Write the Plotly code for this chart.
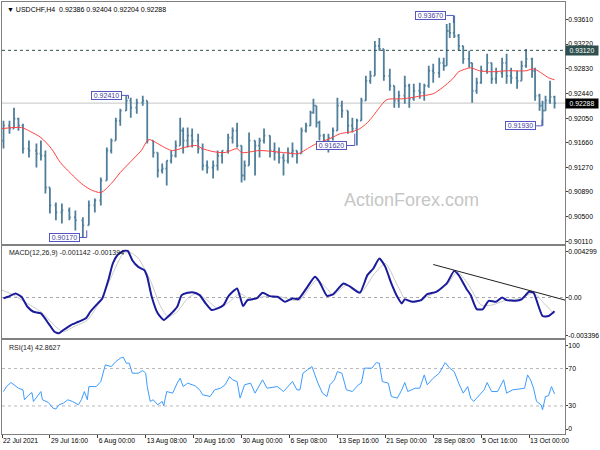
import plotly.graph_objects as go

# ---------------- data ----------------
# bar position on the time axis, in H4-bar numbers (0 = 22 Jul 2021 08:00)
bar_t = [1,5,8,11,14,18,23,26,29,32,36,40,45,49,54,58,62,66,70,73,
         76,79,83,86,90,94,97,101,104,107,110,113,116,119,121,124,127,131,134,137,
         141,144,147,151,154,157,160,162,165,169,172,175,179,182,185,188,191,194,197,200,
         203,206,208,210,212,215,218,221,224,227,231,234,237,240,243,246,249,252,255,259,
         262,265,269,272,275,279,282,285,288,292,295,297,299,302,305,308,312,314,317,320,
         324,327,330,334,337,340,344,347,350,354,356,359,361,363,366,369]

price_open = [0.91697,0.91933,0.91886,0.92043,0.91933,0.91571,0.91540,0.91493,0.91461,0.90958,
              0.90675,0.90565,0.90597,0.90487,0.90440,0.90361,0.90675,0.90754,0.91068,0.91540,
              0.91697,0.92012,0.92169,0.92326,0.92216,0.92295,0.92326,0.91697,0.91509,0.91226,
              0.91257,0.91383,0.91461,0.91619,0.91854,0.91697,0.91776,0.91697,0.91571,0.91304,
              0.91273,0.91304,0.91461,0.91540,0.91744,0.91854,0.91619,0.91147,0.91304,0.91697,
              0.91619,0.91697,0.91776,0.91540,0.91509,0.91430,0.91383,0.91509,0.91540,0.91493,
              0.91854,0.91933,0.92137,0.92247,0.91980,0.91776,0.91697,0.91744,0.91854,0.92247,
              0.92169,0.91933,0.91886,0.92012,0.92326,0.92640,0.92719,0.93191,0.93143,0.92719,
              0.92562,0.92326,0.92405,0.92562,0.92357,0.92483,0.92452,0.92562,0.92798,0.92766,
              0.92923,0.92876,0.93426,0.93395,0.93348,0.93191,0.92986,0.92923,0.92483,0.92609,
              0.92798,0.92923,0.92672,0.92766,0.92923,0.92719,0.92688,0.92640,0.92876,0.92986,
              0.92798,0.92405,0.92247,0.92169,0.92326,0.92386]
price_high = [0.92012,0.92012,0.92216,0.92059,0.91964,0.91697,0.91650,0.91697,0.91540,0.90958,
              0.90723,0.90707,0.90644,0.90597,0.90487,0.90754,0.90785,0.91116,0.91587,0.91729,
              0.92059,0.92200,0.92410,0.92373,0.92357,0.92405,0.92326,0.91697,0.91509,0.91336,
              0.91383,0.91540,0.91697,0.92059,0.91902,0.91902,0.91886,0.91807,0.91650,0.91383,
              0.91383,0.91540,0.91540,0.91807,0.91902,0.91980,0.91619,0.91383,0.91823,0.91697,
              0.91744,0.91886,0.91776,0.91666,0.91587,0.91493,0.91587,0.91666,0.91540,0.91902,
              0.91980,0.92169,0.92357,0.92247,0.92012,0.91807,0.91807,0.91902,0.92373,0.92326,
              0.92169,0.92059,0.92043,0.92373,0.92719,0.92798,0.93269,0.93316,0.93143,0.92829,
              0.92562,0.92483,0.92719,0.92593,0.92593,0.92609,0.92593,0.92876,0.92908,0.93002,
              0.93002,0.93536,0.93552,0.93670,0.93379,0.93191,0.93112,0.92923,0.92688,0.92876,
              0.93065,0.92923,0.92845,0.93002,0.93065,0.92845,0.92798,0.92955,0.93143,0.93002,
              0.92845,0.92436,0.92326,0.92405,0.92640,0.92404]
price_low = [0.91571,0.91807,0.91886,0.91854,0.91493,0.91430,0.91273,0.91383,0.90864,0.90550,
             0.90440,0.90392,0.90440,0.90282,0.90170,0.90361,0.90565,0.90675,0.91068,0.91493,
             0.91697,0.91933,0.92169,0.92059,0.92122,0.92247,0.91650,0.91430,0.91116,0.91178,
             0.90990,0.91336,0.91430,0.91619,0.91493,0.91587,0.91587,0.91493,0.91226,0.91178,
             0.91100,0.91226,0.91336,0.91493,0.91650,0.91587,0.91037,0.91068,0.91304,0.91147,
             0.91430,0.91650,0.91430,0.91383,0.91336,0.91147,0.91336,0.91430,0.91336,0.91493,
             0.91823,0.91933,0.92122,0.91902,0.91697,0.91587,0.91509,0.91697,0.91854,0.92059,
             0.91807,0.91823,0.91620,0.92012,0.92326,0.92593,0.92719,0.93112,0.92640,0.92483,
             0.92216,0.92216,0.92279,0.92216,0.92326,0.92357,0.92326,0.92530,0.92609,0.92688,
             0.92798,0.92876,0.93316,0.93316,0.93112,0.92908,0.92845,0.92295,0.92436,0.92593,
             0.92750,0.92593,0.92593,0.92688,0.92593,0.92593,0.92515,0.92640,0.92845,0.92688,
             0.92326,0.92169,0.91930,0.92169,0.92279,0.92204]
price_close = [0.91933,0.91886,0.92043,0.91933,0.91571,0.91540,0.91493,0.91461,0.90958,0.90675,
               0.90565,0.90597,0.90487,0.90440,0.90361,0.90675,0.90754,0.91068,0.91540,0.91697,
               0.92012,0.92169,0.92326,0.92216,0.92295,0.92326,0.91697,0.91509,0.91226,0.91257,
               0.91383,0.91461,0.91619,0.91854,0.91697,0.91776,0.91697,0.91571,0.91304,0.91273,
               0.91304,0.91461,0.91540,0.91744,0.91854,0.91619,0.91147,0.91304,0.91697,0.91619,
               0.91697,0.91776,0.91540,0.91509,0.91430,0.91383,0.91509,0.91540,0.91493,0.91854,
               0.91933,0.92137,0.92247,0.91980,0.91776,0.91697,0.91744,0.91854,0.92247,0.92169,
               0.91933,0.91886,0.92012,0.92326,0.92640,0.92719,0.93191,0.93143,0.92719,0.92562,
               0.92326,0.92405,0.92562,0.92357,0.92483,0.92452,0.92562,0.92798,0.92766,0.92923,
               0.92876,0.93426,0.93395,0.93348,0.93191,0.92986,0.92923,0.92483,0.92609,0.92798,
               0.92923,0.92672,0.92766,0.92923,0.92719,0.92688,0.92640,0.92876,0.92986,0.92798,
               0.92405,0.92247,0.92169,0.92326,0.92386,0.92288]

ma_t = [0,13,19,26,33,39,46,53,59,66,73,79,86,93,98,104,110,114,124,130,
        134,141,149,157,160,172,188,198,204,210,219,226,234,239,244,248,252,257,268,281,
        288,294,301,305,310,313,319,327,337,350,355,361,365,369]
ma_v = [0.91886,0.91902,0.91839,0.91744,0.91571,0.91351,0.91178,0.91021,0.90927,0.90880,
        0.91021,0.91194,0.91367,0.91540,0.91713,0.91650,0.91571,0.91540,0.91603,0.91619,
        0.91571,0.91524,0.91509,0.91571,0.91509,0.91540,0.91509,0.91493,0.91571,0.91650,
        0.91729,0.91807,0.91839,0.91886,0.91980,0.92090,0.92216,0.92342,0.92357,0.92405,
        0.92436,0.92530,0.92672,0.92782,0.92829,0.92845,0.92798,0.92782,0.92798,0.92798,
        0.92829,0.92750,0.92688,0.92656]

macd_t = [1,4,9,13,17,21,26,31,35,38,41,46,51,56,59,64,67,71,74,77,
          81,84,87,91,95,97,100,104,108,112,117,120,124,128,132,136,140,144,148,151,
          154,157,159,161,164,170,174,179,184,189,194,198,204,209,212,217,221,228,232,239,
          244,248,252,256,260,264,267,269,274,280,284,290,297,302,305,310,313,317,321,325,
          330,334,337,343,347,352,355,361,365,369]
macd_v = [-0.000072,0.000061,0.000343,0.000061,-0.000770,-0.001186,-0.001319,-0.002150,-0.002848,-0.002981,
          -0.002706,-0.002291,-0.002017,-0.001734,-0.001186,-0.000488,-0.000072,0.001449,0.002836,0.003526,
          0.003883,0.003883,0.003111,0.002554,0.002280,0.001723,0.000061,-0.001319,-0.001875,-0.001460,
          -0.000770,0.000202,0.000393,0.000427,0.000202,-0.000488,-0.001044,-0.000903,-0.000629,0.000061,
          0.000476,0.000759,0.000061,-0.000712,-0.000213,-0.000072,0.000393,0.000119,0.000061,-0.000355,
          -0.000072,-0.000130,0.000892,0.001723,0.001307,0.000144,0.000260,0.001174,0.000950,0.000393,
          0.001864,0.002421,0.003252,0.002554,0.001174,0.000061,-0.000488,-0.000155,-0.000355,-0.000213,
          0.000285,0.000476,0.001174,0.002221,0.001864,0.000759,0.000202,-0.000961,-0.000986,-0.000272,
          -0.000355,0.000011,-0.000213,-0.000272,-0.000155,0.000476,0.000393,-0.001543,-0.001543,-0.001142]

signal_t = [0,8,15,26,37,41,48,57,66,75,81,85,91,99,106,111,117,124,130,137,
            144,152,159,166,174,186,194,199,210,217,221,230,240,248,256,264,270,279,288,297,
            304,311,320,327,337,347,355,362,369]
signal_v = [0.000618,0.000202,-0.000355,-0.001186,-0.002565,-0.002848,-0.002432,-0.001875,-0.000213,0.002280,
            0.003692,0.003800,0.003277,0.001449,-0.000770,-0.001601,-0.001186,-0.000072,0.000343,-0.000213,
            -0.000903,-0.000355,0.000343,-0.000213,0.000061,0.000061,-0.000213,-0.000213,0.001449,0.000759,
            0.000202,0.001033,0.000476,0.001864,0.002836,0.001033,-0.000272,-0.000213,0.000343,0.001033,
            0.002138,0.001174,-0.000629,-0.000629,-0.000213,-0.000072,0.000393,-0.000488,-0.001394]

trend_t = [288, 376]
trend_v = [0.002753, -0.000213]

rsi_t = [1,3,6,8,11,14,15,18,20,21,24,26,27,31,34,36,38,41,44,47,
         51,53,55,57,58,63,66,69,73,76,79,81,83,85,87,91,94,96,97,99,
         101,104,107,108,110,114,117,119,121,124,129,132,134,139,142,146,149,152,154,157,
         159,162,166,169,174,177,184,188,194,197,199,201,204,207,209,211,214,217,219,222,
         224,227,230,234,238,240,242,247,250,252,254,258,260,264,267,269,271,276,279,282,
         284,288,292,296,299,302,305,308,311,313,315,319,322,324,327,331,335,337,341,345,
         349,351,353,355,357,360,361,363,365,367,369]
rsi_v = [45.4,50.7,55.0,52.6,49.0,47.2,36.6,41.9,44.3,34.8,41.9,45.4,36.6,33.7,27.7,26.7,31.2,33.0,36.6,34.8,
         31.2,36.6,45.4,36.6,50.7,50.7,56.1,73.9,72.1,77.4,81.0,82.1,75.7,75.7,65.0,65.0,67.8,65.0,50.7,34.8,
         36.6,31.2,34.8,30.2,45.4,43.7,54.4,59.7,50.7,54.4,51.5,47.2,41.9,40.1,47.2,49.0,52.6,61.4,57.9,56.1,
         38.4,52.6,54.4,43.7,57.9,49.0,50.7,45.4,56.1,47.2,47.2,65.0,68.6,72.1,63.2,54.4,43.7,40.1,52.6,57.9,
         66.7,65.0,47.2,45.4,52.6,54.4,70.4,70.4,76.3,75.7,56.1,54.4,40.1,38.4,47.2,55.0,45.4,49.0,49.0,63.2,
         52.6,59.7,65.0,76.3,70.4,66.7,54.4,43.7,50.7,38.4,34.8,41.9,47.2,55.0,45.4,45.4,57.9,43.7,47.2,48.0,
         49.0,63.2,57.9,49.0,34.8,31.2,25.9,40.1,40.8,50.7,42.8627]

date_t = [0,32,64,96,128,160,192,224,256,288,320,352]
date_labels = ["22 Jul 2021","29 Jul 16:00","6 Aug 00:00","13 Aug 08:00","20 Aug 16:00",
               "30 Aug 00:00","6 Sep 08:00","13 Sep 16:00","21 Sep 00:00","28 Sep 08:00",
               "5 Oct 16:00","13 Oct 00:00"]
price_ticks = [0.93610,0.93220,0.92830,0.92440,0.92050,0.91660,0.91270,0.90890,0.90500,0.90110]
macd_tick_labels = ["0.004299","0.00","-0.003396"]
rsi_tick_labels = ["100","70","30","0"]

marked_prices = [0.92410, 0.90170, 0.91620, 0.93670, 0.91930]
marked_box_t = [80, 51.9, 230.3, 296.8, 356.7]
marked_bar_t = [84.5, 56.6, 235.6, 301.5, 360.7]
marked_tip = [0.92357, 0.90282, 0.91807, 0.93552, 0.92028]

level_line = 0.93120
bid_price = 0.92288
header = "▼ USDCHF,H4  0.92386 0.92404 0.92204 0.92288"
macd_title = "MACD(12,26,9) -0.001142 -0.001394"
rsi_title = "RSI(14) 42.8627"

# ---------------- styling ----------------
FONT = "Liberation Sans"
BAR = "#4f7f9a"
FRAME = "#808080"
LBL = "#4040a0"

fig = go.Figure()
fig.add_trace(go.Ohlc(x=bar_t, open=price_open, high=price_high, low=price_low, close=price_close,
                      increasing=dict(line=dict(color=BAR, width=1.8)),
                      decreasing=dict(line=dict(color=BAR, width=1.8)),
                      tickwidth=0.45, hoverinfo="skip", showlegend=False, xaxis="x", yaxis="y"))
fig.add_trace(go.Scatter(x=ma_t, y=ma_v, mode="lines", line=dict(color="#ff4040", width=1, shape="spline", smoothing=0.8),
                         hoverinfo="skip", showlegend=False, xaxis="x", yaxis="y"))
fig.add_trace(go.Scatter(x=signal_t, y=signal_v, mode="lines", line=dict(color="#c8c8c8", width=1, shape="spline", smoothing=0.6),
                         hoverinfo="skip", showlegend=False, xaxis="x2", yaxis="y2"))
fig.add_trace(go.Scatter(x=macd_t, y=macd_v, mode="lines", line=dict(color="#1a1a9c", width=2, shape="spline", smoothing=0.5),
                         hoverinfo="skip", showlegend=False, xaxis="x2", yaxis="y2"))
fig.add_trace(go.Scatter(x=trend_t, y=trend_v, mode="lines", line=dict(color="#202020", width=1),
                         hoverinfo="skip", showlegend=False, xaxis="x2", yaxis="y2"))
fig.add_trace(go.Scatter(x=rsi_t, y=rsi_v, mode="lines", line=dict(color="#3d9bff", width=1),
                         hoverinfo="skip", showlegend=False, xaxis="x3", yaxis="y3"))

TF = dict(family=FONT, size=6.8, color="#000000")
AX = dict(showgrid=False, zeroline=False, showline=True, mirror=True, linecolor=FRAME, linewidth=1,
          tickfont=TF, tickcolor="#404040")
YAX = dict(side="right", ticks="outside", ticklen=2, ticklabelstandoff=-1, ticklabeloverflow="allow", **AX)
XR = [0, 376]

fig.update_layout(
    width=600, height=450, margin=dict(l=1, r=34, t=1, b=16),
    paper_bgcolor="white", plot_bgcolor="white", showlegend=False,
    xaxis=dict(anchor="y", range=XR, showticklabels=False, ticks="", rangeslider=dict(visible=False), **AX),
    xaxis2=dict(anchor="y2", range=XR, matches="x", showticklabels=False, ticks="", **AX),
    xaxis3=dict(anchor="y3", range=XR, matches="x", tickvals=date_t, ticktext=date_labels, tickangle=0,
                ticks="outside", ticklen=3, ticklabelposition="outside right", ticklabeloverflow="allow", **AX),
    yaxis=dict(domain=[0.4408, 1], range=[0.90074, 0.93882], anchor="x",
               tickvals=price_ticks, ticktext=[f"{v:.5f}" for v in price_ticks], **YAX),
    yaxis2=dict(domain=[0.2216, 0.4353], range=[-0.003396, 0.004299], anchor="x2",
                tickvals=[0.003859, 0.0, -0.003205], ticktext=macd_tick_labels, **YAX),
    yaxis3=dict(domain=[0, 0.2165], range=[0, 100], anchor="x3",
                tickvals=[94.5, 70, 30, 5.3], ticktext=rsi_tick_labels, **YAX),
)

shapes = [
    dict(type="line", xref="x domain", yref="y", x0=0, x1=1, y0=bid_price, y1=bid_price,
         line=dict(color="#c4c4c4", width=1), layer="below"),
    dict(type="line", xref="x domain", yref="y", x0=0, x1=1, y0=level_line, y1=level_line,
         line=dict(color="#2f4f4f", width=1, dash="dot")),
    dict(type="line", xref="x2 domain", yref="y2", x0=0, x1=1, y0=0, y1=0,
         line=dict(color="#a8a8a8", width=1, dash="dot"), layer="below"),
    dict(type="line", xref="x3 domain", yref="y3", x0=0, x1=1, y0=70, y1=70,
         line=dict(color="#b8b8b8", width=1, dash="dot"), layer="below"),
    dict(type="line", xref="x3 domain", yref="y3", x0=0, x1=1, y0=30, y1=30,
         line=dict(color="#b8b8b8", width=1, dash="dot"), layer="below"),
]
annotations = [
    dict(text="ActionForex.com", xref="x domain", yref="y domain", x=0.727, y=0.18,
         xanchor="center", yanchor="middle", showarrow=False,
         font=dict(family=FONT, size=18, color="#c6c6c6")),
    dict(text=header, xref="x domain", yref="y domain", x=0.005, y=0.992, xanchor="left", yanchor="top",
         showarrow=False, font=dict(family=FONT, size=7, color="#000000")),
    dict(text=macd_title, xref="x2 domain", yref="y2 domain", x=0.008, y=0.985, xanchor="left", yanchor="top",
         showarrow=False, font=dict(family=FONT, size=7, color="#202020")),
    dict(text=rsi_title, xref="x3 domain", yref="y3 domain", x=0.008, y=0.985, xanchor="left", yanchor="top",
         showarrow=False, font=dict(family=FONT, size=7, color="#202020")),
    dict(text=f"{level_line:.5f}", xref="x domain", yref="y", x=1, y=level_line, xanchor="left", xshift=0,
         showarrow=False, bgcolor="#2f4f4f", borderpad=1, width=30, height=7,
         font=dict(family=FONT, size=6.8, color="white")),
    dict(text=f"{bid_price:.5f}", xref="x domain", yref="y", x=1, y=bid_price, xanchor="left", xshift=0,
         showarrow=False, bgcolor="#000000", borderpad=1, width=30, height=7,
         font=dict(family=FONT, size=6.8, color="white")),
]
for p, bt, mt, tip in zip(marked_prices, marked_box_t, marked_bar_t, marked_tip):
    annotations.append(dict(text=f"{p:.5f}", xref="x", yref="y", x=bt, y=p, xanchor="right",
                            showarrow=False, bgcolor="white", bordercolor="#5555c0", borderwidth=1,
                            borderpad=0, width=29, height=7, font=dict(family=FONT, size=7, color=LBL)))
    shapes.append(dict(type="line", xref="x", yref="y", x0=bt, x1=mt, y0=p, y1=p,
                       line=dict(color="#5555c0", width=1)))
    shapes.append(dict(type="line", xref="x", yref="y", x0=mt, x1=mt, y0=p, y1=tip,
                       line=dict(color="#5555c0", width=1)))

fig.update_layout(shapes=shapes, annotations=annotations)
fig.write_html("out.html", config={"displayModeBar": False},
               post_script="document.body.style.margin='0';")
